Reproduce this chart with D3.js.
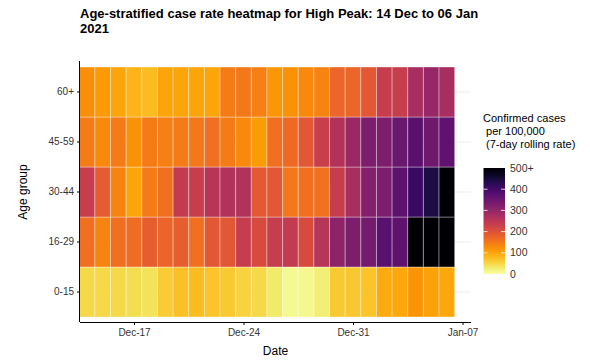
<!DOCTYPE html>
<html><head><meta charset="utf-8">
<script src="https://cdn.jsdelivr.net/npm/d3@7"></script>
<style>body{margin:0;background:#fff;font-family:"Liberation Sans",Arial,sans-serif;}</style>
</head><body><div id="chart"></div>
<script>
const dates = ["2020-12-14","2020-12-15","2020-12-16","2020-12-17","2020-12-18","2020-12-19","2020-12-20","2020-12-21","2020-12-22","2020-12-23","2020-12-24","2020-12-25","2020-12-26","2020-12-27","2020-12-28","2020-12-29","2020-12-30","2020-12-31","2021-01-01","2021-01-02","2021-01-03","2021-01-04","2021-01-05","2021-01-06"];
const ageGroups = ["0-15","16-29","30-44","45-59","60+"];
const rate_0_15  = [47,47,47,43,38,62,73,78,70,63,53,47,30,10,12,25,63,66,70,95,96,118,105,96];
const rate_16_29 = [160,135,160,163,180,172,180,160,190,190,235,210,235,240,210,255,308,328,337,372,365,560,580,600];
const rate_30_44 = [235,185,135,100,145,160,240,235,255,262,262,188,190,150,160,158,235,275,320,330,368,410,440,520];
const rate_45_59 = [145,130,145,120,145,140,145,150,160,145,130,110,160,165,190,232,260,292,330,328,350,370,345,365];
const rate_60p   = [125,112,100,85,78,100,100,100,100,145,150,140,115,120,130,135,170,170,190,235,235,275,295,275];
const xTicks = ["2020-12-17","2020-12-24","2020-12-31","2021-01-07"];
const legendBreaks = [0,100,200,300,400,500];
const legendLabels = ["0","100","200","300","400","500+"];
const titleLines = ["Age-stratified case rate heatmap for High Peak: 14 Dec to 06 Jan","2021"];
const legendTitleLines = ["Confirmed cases"," per 100,000"," (7-day rolling rate)"];

const seriesByGroup = {"0-15":rate_0_15,"16-29":rate_16_29,"30-44":rate_30_44,"45-59":rate_45_59,"60+":rate_60p};
const parse = d3.utcParse("%Y-%m-%d");
const cells = [];
ageGroups.forEach(g => seriesByGroup[g].forEach((v,i) => cells.push({date:parse(dates[i]), group:g, value:v})));

const W=590,H=362;
const panel={left:80,right:471,top:61,bottom:322};
const svg=d3.select("#chart").append("svg").attr("width",W).attr("height",H);

const x=d3.scaleUtc().domain([parse("2020-12-17"),parse("2021-01-07")]).range([134,462.5]);
const y=d3.scaleBand().domain(ageGroups.slice().reverse()).range([67,317]).padding(0);
const color=d3.scaleSequential(t=>d3.interpolateInferno(1-t)).domain([0,500]).clamp(true);
const halfDay=12*3600*1000;

svg.append("clipPath").attr("id","pc").append("rect")
  .attr("x",panel.left).attr("y",panel.top).attr("width",panel.right-panel.left).attr("height",panel.bottom-panel.top);

// gridlines
svg.append("g").selectAll("line").data(ageGroups).join("line")
  .attr("x1",panel.left).attr("x2",panel.right)
  .attr("y1",d=>y(d)+y.bandwidth()/2).attr("y2",d=>y(d)+y.bandwidth()/2)
  .attr("stroke","#ebebeb").attr("stroke-width",1);

// tiles
svg.append("g").attr("clip-path","url(#pc)").selectAll("rect").data(cells).join("rect")
  .attr("x",d=>x(new Date(+d.date-halfDay)))
  .attr("width",d=>x(new Date(+d.date+halfDay))-x(new Date(+d.date-halfDay)))
  .attr("y",d=>y(d.group)).attr("height",y.bandwidth())
  .attr("fill",d=>color(d.value))
  .attr("stroke","#ffffff").attr("stroke-opacity",0.35).attr("stroke-width",1);

// axes
const xAxis=svg.append("g").attr("transform",`translate(0,${panel.bottom})`)
  .call(d3.axisBottom(x).tickValues(xTicks.map(parse)).tickFormat(d3.utcFormat("%b-%d")).tickSize(3).tickPadding(4));
xAxis.select(".domain").attr("d",`M${panel.left},0.5H${panel.right}`).attr("stroke","#000");
xAxis.selectAll(".tick line").attr("stroke","#000");
xAxis.selectAll("text").attr("fill","#333").attr("font-size",10).attr("font-family","Liberation Sans, Arial, sans-serif");

const yAxis=svg.append("g").attr("transform",`translate(${panel.left},0)`)
  .call(d3.axisLeft(y).tickSize(3).tickPadding(3));
yAxis.select(".domain").attr("d",`M-0.5,${panel.top}V${panel.bottom}`).attr("stroke","#000");
yAxis.selectAll(".tick line").attr("stroke","#000");
yAxis.selectAll("text").attr("fill","#333").attr("font-size",10).attr("font-family","Liberation Sans, Arial, sans-serif");

// titles
svg.append("g").selectAll("text").data(titleLines).join("text")
  .attr("x",80).attr("y",(d,i)=>17.5+i*15.5)
  .attr("font-size",13).attr("font-weight","bold").attr("fill","#000").text(d=>d);

svg.append("text").attr("x",(panel.left+panel.right)/2).attr("y",355).attr("text-anchor","middle")
  .attr("font-size",12).attr("fill","#000").text("Date");
svg.append("text").attr("transform","translate(27,192) rotate(-90)").attr("text-anchor","middle")
  .attr("font-size",12).attr("fill","#000").text("Age group");

// legend
const lg=svg.append("g");
lg.selectAll("text.lt").data(legendTitleLines).join("text").attr("class","lt")
  .attr("x",483).attr("y",(d,i)=>122+i*13).attr("font-size",11).attr("fill","#000")
  .style("white-space","pre").text(d=>d);

const ly=d3.scaleLinear().domain([0,500]).range([274,168]);
const grad=svg.append("defs").append("linearGradient").attr("id","lgrad").attr("x1",0).attr("y1",1).attr("x2",0).attr("y2",0);
d3.range(0,1.0001,0.05).forEach(t=>grad.append("stop").attr("offset",t).attr("stop-color",color(t*500)));
lg.append("rect").attr("x",483.5).attr("y",ly(500)).attr("width",21.5).attr("height",ly(0)-ly(500)).attr("fill","url(#lgrad)");
lg.selectAll("line.tl").data(legendBreaks.slice(1,-1)).join("line").attr("class","tl")
  .attr("x1",483.5).attr("x2",487.5).attr("y1",d=>ly(d)).attr("y2",d=>ly(d)).attr("stroke","#fff").attr("stroke-opacity",0.8);
lg.selectAll("line.tr").data(legendBreaks.slice(1,-1)).join("line").attr("class","tr")
  .attr("x1",501).attr("x2",505).attr("y1",d=>ly(d)).attr("y2",d=>ly(d)).attr("stroke","#fff").attr("stroke-opacity",0.8);
lg.selectAll("text.lab").data(legendBreaks).join("text").attr("class","lab")
  .attr("x",510).attr("y",d=>ly(d)).attr("dy","0.35em").attr("font-size",10.5).attr("fill","#333")
  .text((d,i)=>legendLabels[i]);
</script></body></html>
